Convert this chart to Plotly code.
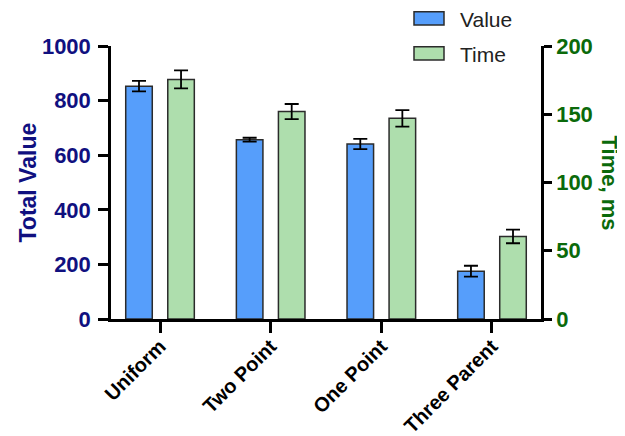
import plotly.graph_objects as go

categories = ["Uniform", "Two Point", "One Point", "Three Parent"]
value_mean = [853, 657, 641, 175]
value_err = [19, 7, 19, 20]
time_mean = [175.5, 152, 147, 60.5]
time_err = [6.6, 5.5, 6.0, 5.0]

BLUE = "#569EFB"
GREEN = "#AEDEAD"
NAVY = "#10107F"
DGREEN = "#0B6A0B"
FONT = "Arial, Liberation Sans, Helvetica, sans-serif"

# page body has an 8px margin; figure is sized to fit the window
OFF = 8
W, H = 625 - OFF, 436 - OFF
L, R, T, B = 111 - OFF, 84, 46 - OFF, 116.5
pw, ph = W - L - R, H - T - B

fig = go.Figure()
fig.add_trace(go.Bar(
    x=categories, y=value_mean, name="Value", yaxis="y",
    width=0.24, offset=-0.31,
    marker=dict(color=BLUE, line=dict(color="#2b2b2b", width=1.5)),
    error_y=dict(type="data", array=value_err, color="black", thickness=1.8, width=7),
    showlegend=False,
))
fig.add_trace(go.Bar(
    x=categories, y=time_mean, name="Time", yaxis="y2",
    width=0.24, offset=0.07,
    marker=dict(color=GREEN, line=dict(color="#2b2b2b", width=1.5)),
    error_y=dict(type="data", array=time_err, color="black", thickness=1.8, width=7),
    showlegend=False,
))


def px2x(p):
    return (p - OFF - L) / pw


def py2y(p):
    return (H - B - (p - OFF)) / ph


shapes = []
annotations = []
legend_items = [("Value", BLUE, 11.7, 25.0), ("Time", GREEN, 46.7, 60.0)]
for name, col, y0, y1 in legend_items:
    shapes.append(dict(type="rect", xref="paper", yref="paper",
                       x0=px2x(414), x1=px2x(444), y0=py2y(y1), y1=py2y(y0),
                       fillcolor=col, line=dict(color="#2b2b2b", width=1.5)))
    annotations.append(dict(text=name, xref="paper", yref="paper",
                            x=px2x(459), y=py2y((y0 + y1) / 2 + 1.5),
                            xanchor="left", yanchor="middle", showarrow=False,
                            borderpad=0,
                            font=dict(family=FONT, size=21, color="#222222")))

annotations.append(dict(text="Total Value", xref="paper", yref="paper",
                        x=px2x(27), y=0.5, textangle=-90, showarrow=False,
                        xanchor="center", yanchor="middle", borderpad=0,
                        font=dict(family=FONT, size=23, color=NAVY, weight="bold")))
annotations.append(dict(text="Time, ms", xref="paper", yref="paper",
                        x=px2x(609), y=0.5, textangle=90, showarrow=False,
                        xanchor="center", yanchor="middle", borderpad=0,
                        font=dict(family=FONT, size=22, color=DGREEN, weight="bold")))

fig.update_layout(
    width=W, height=H,
    margin=dict(l=L, r=R, t=T, b=B, pad=0, autoexpand=False),
    plot_bgcolor="white", paper_bgcolor="white",
    barmode="overlay",
    font=dict(family=FONT),
    xaxis=dict(
        type="category", range=[-0.443, 3.443],
        showline=True, linecolor="black", linewidth=2.5,
        ticks="outside", ticklen=11, tickwidth=2.5, tickcolor="black",
        tickangle=-45, showgrid=False, zeroline=False, automargin=False,
        ticklabelstandoff=-6,
        tickfont=dict(family=FONT, size=20, color="black", weight="bold"),
    ),
    yaxis=dict(
        range=[0, 1000], tickvals=[0, 200, 400, 600, 800, 1000],
        showline=True, linecolor="black", linewidth=2.5,
        ticks="outside", ticklen=10, tickwidth=2.5, tickcolor="black",
        showgrid=False, zeroline=False, automargin=False, ticklabelstandoff=3,
        tickfont=dict(family=FONT, size=22, color=NAVY, weight="bold"),
    ),
    yaxis2=dict(
        range=[0, 200], tickvals=[0, 50, 100, 150, 200],
        overlaying="y", side="right", anchor="x",
        showline=True, linecolor="black", linewidth=2.5,
        ticks="outside", ticklen=8, tickwidth=2.5, tickcolor="black",
        showgrid=False, zeroline=False, automargin=False,
        tickfont=dict(family=FONT, size=22, color=DGREEN, weight="bold"),
    ),
    shapes=shapes,
    annotations=annotations,
)

fig.write_html("out.html")
